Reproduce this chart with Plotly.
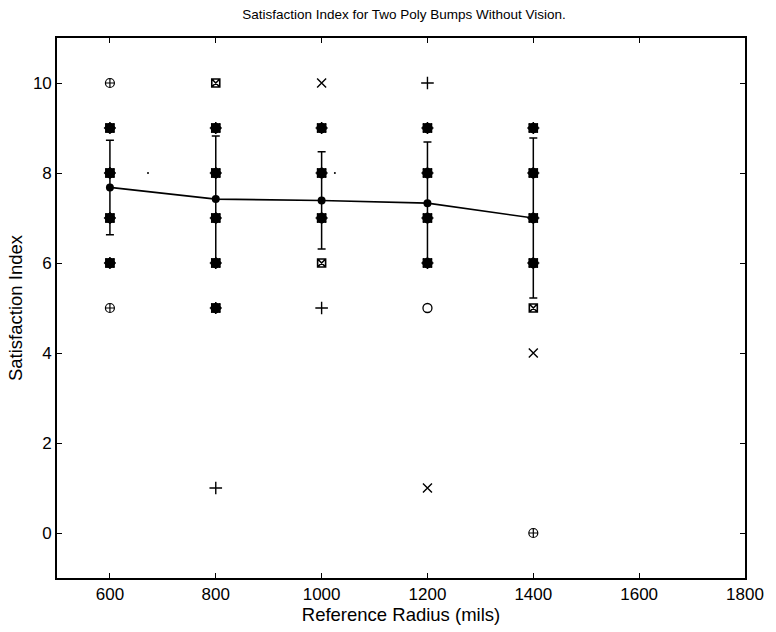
import plotly.graph_objects as go

# Data
radius = [600, 800, 1000, 1200, 1400]
mean_index = [7.68, 7.42, 7.39, 7.33, 7.0]
std_index = [1.05, 1.40, 1.08, 1.36, 1.78]

# overlapping (dense) responses
dense_x = [600, 600, 600, 600,
           800, 800, 800, 800, 800,
           1000, 1000, 1000,
           1200, 1200, 1200, 1200,
           1400, 1400, 1400, 1400]
dense_y = [9, 8, 7, 6,
           9, 8, 7, 6, 5,
           9, 8, 7,
           9, 8, 7, 6,
           9, 8, 7, 6]

# single responses by marker type
circlecross_x = [600, 600, 1400]
circlecross_y = [10, 5, 0]
squarex_x = [800, 1000, 1400]
squarex_y = [10, 6, 5]
xmark_x = [1000, 1200, 1400]
xmark_y = [10, 1, 4]
plus_x = [1200, 1000, 800]
plus_y = [10, 5, 1]
circle_x = [1200]
circle_y = [5]
dot_x = [672, 1025]
dot_y = [8, 8]

x_ticks = [600, 800, 1000, 1200, 1400, 1600, 1800]
y_ticks = [0, 2, 4, 6, 8, 10]

fig = go.Figure()

# error bars + mean line
fig.add_trace(go.Scatter(
    x=radius, y=mean_index, mode="lines+markers",
    line=dict(color="black", width=1.6),
    marker=dict(symbol="circle", size=8, color="black"),
    error_y=dict(type="data", array=std_index, visible=True,
                 color="black", thickness=1.5, width=4),
    showlegend=False))

# dense overlapping markers
for sym, sz in [("square", 8), ("asterisk-open", 10), ("circle-open", 9), ("x-thin-open", 9)]:
    fig.add_trace(go.Scatter(
        x=dense_x, y=dense_y, mode="markers",
        marker=dict(symbol=sym, size=sz, color="black",
                    line=dict(color="black", width=1.5)),
        showlegend=False))

def add_markers(xs, ys, sym, sz, lw=1.2):
    fig.add_trace(go.Scatter(
        x=xs, y=ys, mode="markers",
        marker=dict(symbol=sym, size=sz, color="black",
                    line=dict(color="black", width=lw)),
        showlegend=False))

add_markers(circlecross_x, circlecross_y, "circle-cross-open", 9)
add_markers(squarex_x, squarex_y, "square-x-open", 8, 1.6)
add_markers(xmark_x, xmark_y, "x-thin-open", 9, 1.4)
add_markers(plus_x, plus_y, "cross-thin-open", 9, 1.4)
add_markers(circle_x, circle_y, "circle-open", 9, 1.3)
add_markers(dot_x, dot_y, "circle", 2, 0)

font_family = "Liberation Sans, Arial, Helvetica, sans-serif"

fig.update_layout(
    width=776, height=632,
    margin=dict(l=57, r=25, t=38, b=51),
    paper_bgcolor="white", plot_bgcolor="white",
    font=dict(family=font_family, size=17, color="black"),
    title=dict(text="Satisfaction Index for Two Poly Bumps Without Vision.",
               x=(57 + 751) / 2 / 776, xanchor="center",
               y=1 - 14 / 632, yanchor="middle",
               font=dict(size=13.5, family=font_family)),
    xaxis=dict(range=[500, 1800], tickvals=x_ticks, ticks="inside",
               ticklen=5, tickwidth=1.2, tickcolor="black",
               showline=True, linecolor="black", linewidth=1.6,
               mirror="ticks", showgrid=False, zeroline=False,
               tickfont=dict(size=17),
               title=dict(text="Reference Radius (mils)", standoff=3,
                          font=dict(size=18.5))),
    yaxis=dict(range=[-1, 11], tickvals=y_ticks, ticks="inside",
               ticklen=5, tickwidth=1.2, tickcolor="black",
               showline=True, linecolor="black", linewidth=1.6,
               mirror="ticks", showgrid=False, zeroline=False,
               tickfont=dict(size=17),
               title=dict(text="Satisfaction Index", standoff=5,
                          font=dict(size=18.5))),
)

fig.write_html("out.html", config={"displayModeBar": False},
               post_script="document.body.style.margin='0px';")
